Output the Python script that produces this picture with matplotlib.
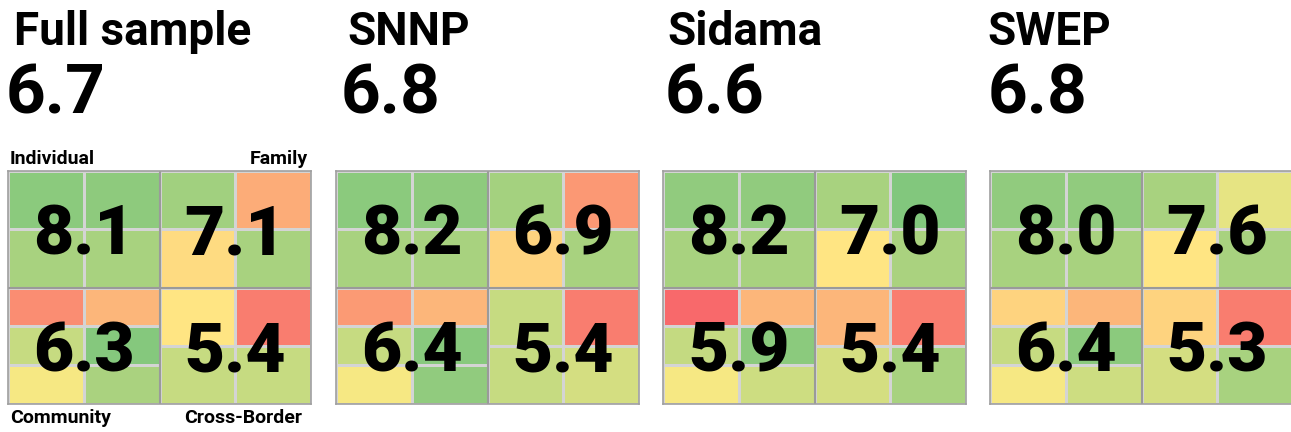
import numpy as np
import matplotlib
matplotlib.use("Agg")
import matplotlib.pyplot as plt
from matplotlib.colors import LinearSegmentedColormap, TwoSlopeNorm

plt.rcParams['font.family'] = ['Roboto', 'DejaVu Sans']

# ---------------- data ----------------
regions = ["Full sample", "SNNP", "Sidama", "SWEP"]
overall = [6.7, 6.8, 6.6, 6.8]

individual_avg = [8.1, 8.2, 8.2, 8.0]
family_avg = [7.1, 6.9, 7.0, 7.6]
community_avg = [6.3, 6.4, 5.9, 6.4]
border_avg = [5.4, 5.4, 5.4, 5.3]

# sub-indicator scores, rows listed top to bottom
individual_cells = [
    [[8.35, 8.3], [7.9, 7.9]],
    [[8.35, 8.3], [7.9, 7.9]],
    [[8.25, 8.25], [7.9, 7.9]],
    [[8.25, 8.25], [7.9, 7.9]],
]
family_cells = [
    [[8.0, 5.3], [6.2, 7.9]],
    [[7.95, 4.9], [6.05, 7.9]],
    [[7.9, 8.5], [6.4, 7.85]],
    [[7.9, 6.9], [6.4, 7.9]],
]
community_cells = [
    [[4.7, 5.5], [7.4, 8.45], [6.65, 7.85]],
    [[4.95, 5.5], [7.4, 8.4], [6.65, 8.25]],
    [[4.0, 5.5], [7.45, 8.35], [6.65, 7.3]],
    [[6.05, 5.5], [7.4, 8.35], [6.65, 7.3]],
]
border_cells = [
    [[6.4, 4.4], [7.4, 7.4]],
    [[7.4, 4.4], [7.4, 7.2]],
    [[5.5, 4.4], [7.2, 7.9]],
    [[6.05, 4.4], [7.2, 7.9]],
]

# ---------------- style ----------------
W, H = 1291, 432
cmap = LinearSegmentedColormap.from_list("ryg", ["#F8696B", "#FFEB84", "#63BE7B"])
norm = TwoSlopeNorm(vmin=4.0, vcenter=6.5, vmax=9.0)

grid_left = [8, 336, 663, 990]
title_x = [14, 347, 667, 987]
number_x = [6, 341, 665, 988]
grid_top, grid_bottom, grid_w = 171, 404, 303

fig = plt.figure(figsize=(W / 100, H / 100), dpi=100)


def px(x, y):
    return x / W, 1 - y / H


def quadrant(ax, cells, x0, y0, avg):
    arr = np.array(cells)[::-1]
    nrow, ncol = arr.shape
    xe = np.linspace(x0, x0 + 1, ncol + 1)
    ye = np.linspace(y0, y0 + 1, nrow + 1)
    ax.pcolormesh(xe, ye, arr, cmap=cmap, norm=norm,
                  edgecolors="#d4d4d4", linewidth=1.0)
    ax.text(x0 + 0.5, y0 + 0.5, f"{avg:.1f}", ha="center", va="center_baseline",
            fontsize=50, fontweight=900, color="black")


for i, name in enumerate(regions):
    l, b = px(grid_left[i], grid_bottom)
    ax = fig.add_axes([l, b, grid_w / W, (grid_bottom - grid_top) / H])
    quadrant(ax, individual_cells[i], 0, 1, individual_avg[i])
    quadrant(ax, family_cells[i], 1, 1, family_avg[i])
    quadrant(ax, community_cells[i], 0, 0, community_avg[i])
    quadrant(ax, border_cells[i], 1, 0, border_avg[i])
    ax.axvline(1, color="#9a9a9a", lw=1.5)
    ax.axhline(1, color="#9a9a9a", lw=1.5)
    ax.set_xlim(0, 2)
    ax.set_ylim(0, 2)
    ax.set_xticks([])
    ax.set_yticks([])
    for s in ax.spines.values():
        s.set_color("#a0a0a0")
        s.set_linewidth(1.2)

    fig.text(*px(title_x[i], 45), name, fontsize=33, fontweight="bold",
             ha="left", va="baseline")
    fig.text(*px(number_x[i], 113), f"{overall[i]:.1f}", fontsize=50,
             fontweight="bold", ha="left", va="baseline")

# corner labels on the first panel
fig.text(*px(10, 159), "Individual", fontsize=14, fontweight="bold", ha="left", va="center")
fig.text(*px(308, 159), "Family", fontsize=14, fontweight="bold", ha="right", va="center")
fig.text(*px(10, 418), "Community", fontsize=14, fontweight="bold", ha="left", va="center")
fig.text(*px(302, 418), "Cross-Border", fontsize=14, fontweight="bold", ha="right", va="center")

fig.savefig("out.png", dpi=100)
